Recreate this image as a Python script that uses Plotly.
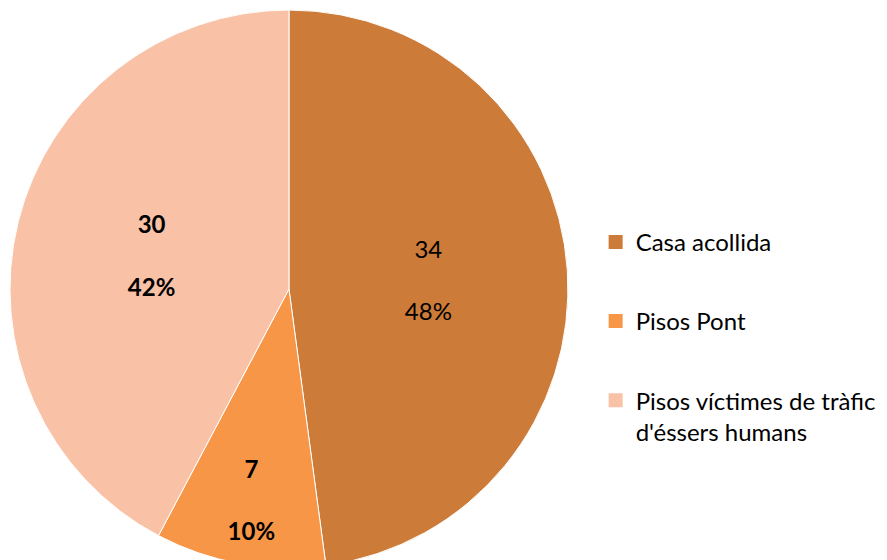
import plotly.graph_objects as go

categories = ["Casa acollida", "Pisos Pont", "Pisos víctimes de tràfic<br>d'éssers humans"]
values = [34, 7, 30]
colors = ["#CD7B38", "#F79646", "#F9C1A6"]
bold = [False, True, True]

templates = ["<b>%{value}<br><br>%{percent:.0%}</b>" if b else "%{value}<br><br>%{percent:.0%}" for b in bold]

fig = go.Figure()
fig.add_trace(go.Pie(labels=categories, values=values, sort=False, direction="clockwise", rotation=0,
                     marker=dict(colors=colors, line=dict(color="white", width=1)),
                     texttemplate=templates, textposition="inside", insidetextorientation="horizontal",
                     insidetextfont=dict(color="black", size=24, family="Lato"),
                     domain=dict(x=[0.00225, 0.6313], y=[0, 1]), hoverinfo="label+value+percent",
                     showlegend=False))

# legend entries as square markers so the item spacing can be set
for lab, col in zip(categories, colors):
    fig.add_trace(go.Scatter(x=[None], y=[None], mode="markers", name=lab, legendgroup=lab,
                             marker=dict(symbol="square", size=14, color=col), hoverinfo="skip"))

fig.update_xaxes(visible=False)
fig.update_yaxes(visible=False)
fig.update_layout(width=887, height=560, margin=dict(l=0, r=0, t=2, b=0),
                  paper_bgcolor="white", plot_bgcolor="white",
                  font=dict(family="Lato", size=24, color="black"),
                  legend=dict(x=0.6625, xanchor="left", y=0.624, yanchor="top", valign="top",
                              font=dict(size=24), tracegroupgap=45, itemwidth=30))

fig.write_html("out.html")
